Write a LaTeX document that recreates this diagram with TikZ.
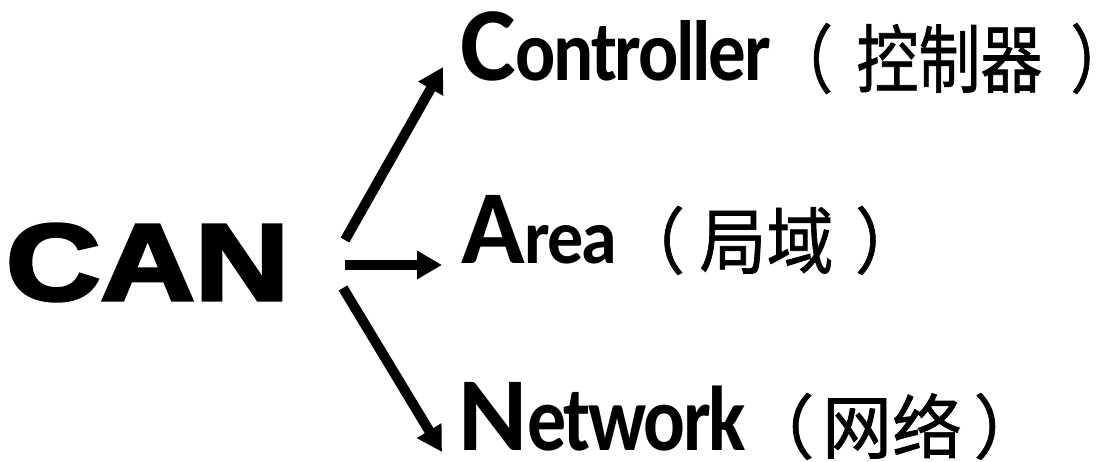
\documentclass[tikz,border=0pt]{standalone}
\usepackage{fontspec}
\setmainfont{Carlito}
\newfontfamily\canfont[BoldFeatures={FakeBold=3}]{Liberation Sans}
\newfontfamily\cjk[FakeBold=1]{Noto Sans CJK SC}
\usetikzlibrary{arrows.meta}
% large initial letter followed by the rest of the word (slightly tight tracking)
\newcommand{\capletter}[1]{{\fontsize{105}{105}\selectfont\bfseries #1}}
\newcommand{\tailtext}[3]{\scalebox{1}[#2]{\fontsize{#1}{#1}\selectfont\bfseries\addfontfeature{LetterSpace=-3}#3}}
% Chinese glyphs: size, vertical stretch, text
\newcommand{\zhtext}[3]{\scalebox{1}[#2]{\cjk\fontsize{#1}{#1}\selectfont #3}}
\tikzset{
  word/.style={anchor=base west, inner sep=0pt, outer sep=0pt},
  zh/.style={anchor=base, inner sep=0pt, outer sep=0pt},
  zhl/.style={anchor=base west, inner sep=0pt, outer sep=0pt},
  link/.style={line width=10pt, -{Triangle[length=25pt,width=27pt]}}
}
\begin{document}
\begin{tikzpicture}[x=1pt,y=-1pt]
  \useasboundingbox[fill=white] (0,0) rectangle (1116,461);
  % acronym
  \node[word] (can) at (6,300) {\scalebox{1.2}[1]{\canfont\bfseries\fontsize{109}{109}\selectfont CAN}};
  % expansions
  \node[word] (ctrl) at (460,80)  {\capletter{C}\tailtext{75}{1.14}{ontroller}};
  \node[word] (area) at (461,263) {\capletter{A}\tailtext{72}{1.07}{rea}};
  \node[word] (net)  at (458,450) {\capletter{N}\tailtext{78}{1.18}{etwork}};
  % Chinese glosses
  \node[zhl] (ctrlo) at (771,86.8) {\zhtext{62}{1.2}{（}};
  \node[zh]  (ctrlzh) at (949.5,86.8) {\zhtext{62}{1.2}{控制器}};
  \node[zhl] (ctrlc) at (1070.4,86.8) {\zhtext{62}{1.2}{）}};
  \node[zhl] (areao) at (618,267.9) {\zhtext{67}{1.08}{（}};
  \node[zh]  (areazh) at (766.5,267.9) {\zhtext{67}{1.08}{局域}};
  \node[zhl] (areac) at (855,267.9) {\zhtext{67}{1.08}{）}};
  \node[zhl] (neto) at (744.4,453.1) {\zhtext{70}{1.0}{（}};
  \node[zh]  (netzh) at (892,453.1) {\zhtext{70}{1.0}{网络}};
  \node[zhl] (netc) at (973.6,453.1) {\zhtext{70}{1.0}{）}};
  % arrow ends
  \coordinate (s1) at (345,240);
  \coordinate (s2) at (345,265);
  \coordinate (s3) at (343,288);
  \coordinate (e1) at (443,67);
  \coordinate (e2) at (442,265);
  \coordinate (e3) at (442,452);
  \draw[link] (s1) -- (e1);
  \draw[link] (s2) -- (e2);
  \draw[link] (s3) -- (e3);
\end{tikzpicture}
\end{document}
